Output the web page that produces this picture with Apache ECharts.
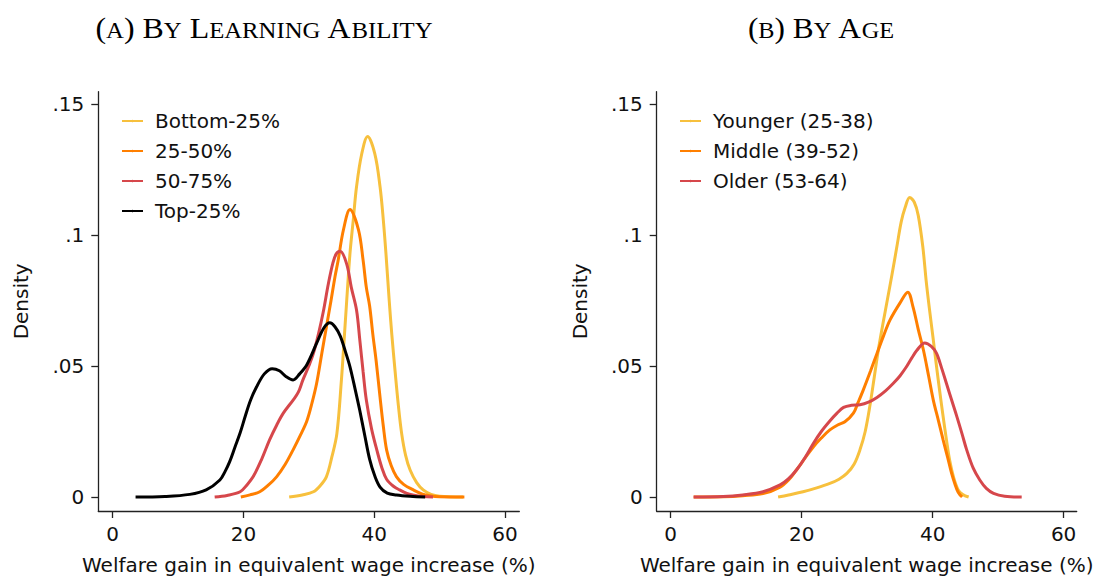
<!DOCTYPE html>
<html>
<head>
<meta charset="utf-8">
<script src="https://cdn.jsdelivr.net/npm/echarts@6/dist/echarts.min.js"></script>
<style>
html,body{margin:0;padding:0;background:#fff;}
#chart{width:1098px;height:578px;}
</style>
</head>
<body>
<div id="chart"></div>
<script>
// ---- Data ----
var xTicks = [0, 20, 40, 60];
var xTickLabels = ['0', '20', '40', '60'];
var yTicks = [0, 0.05, 0.1, 0.15];
var yTickLabels = ['0', '.05', '.1', '.15'];
var xTitle = 'Welfare gain in equivalent wage increase (%)';
var yTitle = 'Density';

var namesA = ['Bottom-25%', '25-50%', '50-75%', 'Top-25%'];
var namesB = ['Younger (25-38)', 'Middle (39-52)', 'Older (53-64)'];

// Panel A: by learning ability
var bottom25 = [[27.0,0],[29,0.0008],[30.7,0.002],[31.8,0.0045],[32.7,0.0078],[33.5,0.015],[34.3,0.0243],[35.0,0.045],[35.3,0.056],[35.8,0.075],[36.3,0.093],[36.8,0.1057],[37.3,0.1184],[38.1,0.131],[39.0,0.1376],[40.1,0.131],[40.9,0.1184],[41.4,0.1057],[41.8,0.093],[42.3,0.075],[42.7,0.062],[43.2,0.048],[43.7,0.035],[44.2,0.0243],[44.8,0.016],[45.5,0.0103],[46.5,0.0055],[47.5,0.0027],[48.7,0.001],[50,0.0003],[53.6,0]];
var p2550 = [[19.6,0],[21,0.0008],[22.5,0.002],[23.8,0.0045],[25.1,0.0078],[26.4,0.0125],[27.6,0.018],[28.7,0.0235],[29.7,0.029],[30.5,0.036],[31.2,0.0434],[32.0,0.055],[32.7,0.065],[33.4,0.075],[34.0,0.084],[34.5,0.0905],[35.3,0.102],[36.3,0.1097],[37.6,0.102],[38.3,0.0905],[38.8,0.080],[39.3,0.073],[39.8,0.062],[40.3,0.052],[40.9,0.038],[41.4,0.027],[41.9,0.018],[42.6,0.012],[43.4,0.0078],[44.5,0.0048],[46.0,0.0027],[47.3,0.0012],[48.5,0.0005],[50,0.0001],[53.8,0]];
var p5075 = [[15.6,0],[17.5,0.0006],[19.5,0.002],[20.5,0.0045],[21.5,0.0078],[22.8,0.0145],[24.0,0.0218],[25.1,0.0275],[26.1,0.032],[27.6,0.037],[28.4,0.040],[29.1,0.0447],[30.0,0.050],[30.7,0.0548],[31.5,0.0625],[32.2,0.0705],[33.0,0.0815],[33.7,0.0895],[34.2,0.0928],[34.8,0.0938],[35.8,0.0889],[36.5,0.080],[37.3,0.0714],[37.8,0.060],[38.3,0.048],[38.8,0.037],[39.6,0.026],[40.4,0.018],[41.2,0.011],[41.9,0.0068],[43.0,0.0040],[43.9,0.0027],[45.0,0.0014],[45.9,0.0008],[47.5,0.0002],[49,0]];
var top25 = [[3.5,0],[8,0.0002],[11.8,0.001],[14.3,0.0027],[16.4,0.0065],[17.2,0.0098],[17.9,0.0135],[18.7,0.019],[19.5,0.0245],[20.3,0.031],[21.1,0.037],[22.0,0.042],[23.2,0.047],[24.4,0.049],[25.5,0.0482],[26.5,0.046],[27.6,0.0447],[28.6,0.047],[29.7,0.0505],[31.2,0.0587],[32.3,0.0645],[33.2,0.0665],[34.0,0.065],[34.8,0.0615],[35.6,0.0555],[36.3,0.0497],[37.1,0.041],[37.8,0.033],[38.6,0.023],[39.3,0.0145],[40.1,0.008],[40.9,0.0038],[42,0.0015],[43.4,0.0008],[45.5,0.0003],[47.8,0]];

// Panel B: by age
var younger = [[16.4,0],[18,0.0008],[20.2,0.002],[22.3,0.0035],[24.3,0.0052],[25.7,0.0068],[26.9,0.009],[28,0.0125],[28.9,0.018],[29.7,0.025],[30.4,0.0345],[31.1,0.046],[31.7,0.056],[32.4,0.066],[33.1,0.0755],[33.8,0.085],[34.5,0.095],[35.2,0.105],[35.8,0.1105],[36.5,0.1143],[37.2,0.1125],[37.8,0.1075],[38.5,0.0955],[39.0,0.0828],[39.5,0.072],[40.1,0.06],[40.6,0.0497],[41.1,0.040],[41.6,0.0307],[42.1,0.022],[42.6,0.014],[43.2,0.0075],[43.9,0.0027],[44.6,0.001],[45.5,0]];
var middle = [[3.5,0],[8,0.0001],[11,0.0005],[14.1,0.0013],[16.7,0.0038],[18,0.0065],[19.2,0.0103],[20.5,0.0148],[21.8,0.0192],[23.0,0.0225],[24.3,0.0256],[25.5,0.0275],[26.6,0.0287],[27.9,0.032],[28.6,0.036],[29.4,0.0408],[30.5,0.048],[31.5,0.0548],[32.5,0.0615],[33.5,0.0676],[35.0,0.074],[36.2,0.0782],[37.0,0.0726],[37.8,0.064],[38.6,0.056],[39.4,0.046],[40.1,0.037],[40.9,0.029],[41.6,0.0218],[42.3,0.015],[42.9,0.009],[43.4,0.005],[43.9,0.0018],[44.5,0]];
var older = [[3.5,0],[8,0.0002],[11,0.0008],[14.1,0.002],[16.7,0.0046],[18,0.007],[19.2,0.0103],[20.5,0.015],[21.8,0.0205],[23.0,0.025],[24.3,0.029],[25.4,0.032],[26.4,0.0342],[27.6,0.0350],[28.9,0.0352],[30.2,0.0362],[31.5,0.038],[32.8,0.0405],[34.0,0.0434],[35.0,0.0462],[36.0,0.0497],[36.8,0.053],[37.6,0.056],[38.8,0.0588],[39.8,0.0575],[40.6,0.0548],[41.4,0.049],[42.1,0.0434],[42.9,0.037],[43.7,0.0307],[44.5,0.024],[45.2,0.018],[46.2,0.011],[47.2,0.0065],[48.2,0.0033],[49.3,0.0014],[51,0.0003],[53.6,0]];

// ---- Styling ----
var C_YEL = '#F7C03D', C_ORG = '#FF7F00', C_RED = '#D6474B', C_BLK = '#000000';
var SANS = 'DejaVu Sans', SERIF = 'Liberation Serif';
var AX = '#222';

function makeX(idx, mn, mx) {
  return {
    type: 'value', gridIndex: idx, min: mn, max: mx,
    splitLine: {show: false},
    axisLine: {show: true, onZero: false, lineStyle: {color: AX, width: 1.3}},
    axisTick: {show: true, length: 7, customValues: xTicks, lineStyle: {color: AX, width: 1.3}},
    axisLabel: {customValues: xTicks, margin: 13, fontSize: 20, fontFamily: SANS, color: '#111',
      formatter: function (v) { var i = xTicks.indexOf(v); return i >= 0 ? xTickLabels[i] : ''; }},
    name: xTitle, nameLocation: 'middle', nameGap: 44,
    nameTextStyle: {fontSize: 20, fontFamily: SANS, color: '#111'}
  };
}
function makeY(idx) {
  return {
    type: 'value', gridIndex: idx, min: -0.00534, max: 0.1547,
    splitLine: {show: false},
    axisLine: {show: true, onZero: false, lineStyle: {color: AX, width: 1.3}},
    axisTick: {show: true, length: 7, customValues: yTicks, lineStyle: {color: AX, width: 1.3}},
    axisLabel: {customValues: yTicks, margin: 14, fontSize: 20, fontFamily: SANS, color: '#111',
      formatter: function (v) {
        for (var i = 0; i < yTicks.length; i++) { if (Math.abs(yTicks[i] - v) < 1e-9) return yTickLabels[i]; }
        return '';
      }},
    name: yTitle, nameLocation: 'middle', nameGap: 67,
    nameTextStyle: {fontSize: 20, fontFamily: SANS, color: '#111'}
  };
}
function makeLine(name, data, color, ax) {
  return {
    type: 'line', name: name, data: data, xAxisIndex: ax, yAxisIndex: ax,
    symbol: 'none', showSymbol: false, smooth: 0.35, color: color,
    lineStyle: {color: color, width: 3}, emphasis: {disabled: true}, animation: false
  };
}
function makeLegend(names, left) {
  return {
    data: names, orient: 'vertical', left: left, top: 101,
    itemWidth: 21, itemHeight: 3, itemGap: 0, selectedMode: false,
    formatter: function (n) { return '{t|' + n + '}'; },
    textStyle: {fontSize: 20, fontFamily: SANS, color: '#111', lineHeight: 30,
      rich: {t: {fontSize: 20, fontFamily: SANS, color: '#111', lineHeight: 30, padding: [0, 0, 0, 7]}}}
  };
}

var titleRich = {
  b: {fontSize: 29, fontFamily: SERIF, fill: '#000', color: '#000', verticalAlign: 'bottom', lineHeight: 34},
  s: {fontSize: 22.5, fontFamily: SERIF, fill: '#000', color: '#000', verticalAlign: 'bottom', lineHeight: 34, padding: [0, 0, 1.2, 0]}
};

var chart = echarts.init(document.getElementById('chart'), null, {renderer: 'svg'});
chart.setOption({
  backgroundColor: '#fff',
  animation: false,
  grid: [
    {left: 98.3, top: 91.7, width: 421, height: 419.3, containLabel: false, outerBoundsMode: 'none'},
    {left: 656.7, top: 91.7, width: 420, height: 419.3, containLabel: false, outerBoundsMode: 'none'}
  ],
  xAxis: [makeX(0, -2.2, 62.2), makeX(1, -2.14, 62.0)],
  yAxis: [makeY(0), makeY(1)],
  legend: [makeLegend(namesA, 116), makeLegend(namesB, 674)],
  graphic: [
    {type: 'text', x: 264, y: 26, scaleX: 1.1, silent: true,
      style: {text: '{b|(}{s|A}{b|) B}{s|Y}{b| L}{s|EARNING}{b| A}{s|BILITY}', rich: titleRich, align: 'center', verticalAlign: 'middle', fill: '#000'}},
    {type: 'text', x: 821, y: 26, scaleX: 1.08, silent: true,
      style: {text: '{b|(}{s|B}{b|) B}{s|Y}{b| A}{s|GE}', rich: titleRich, align: 'center', verticalAlign: 'middle', fill: '#000'}}
  ],
  series: [
    makeLine(namesA[0], bottom25, C_YEL, 0),
    makeLine(namesA[1], p2550, C_ORG, 0),
    makeLine(namesA[2], p5075, C_RED, 0),
    makeLine(namesA[3], top25, C_BLK, 0),
    makeLine(namesB[0], younger, C_YEL, 1),
    makeLine(namesB[1], middle, C_ORG, 1),
    makeLine(namesB[2], older, C_RED, 1)
  ]
});
</script>
</body>
</html>
